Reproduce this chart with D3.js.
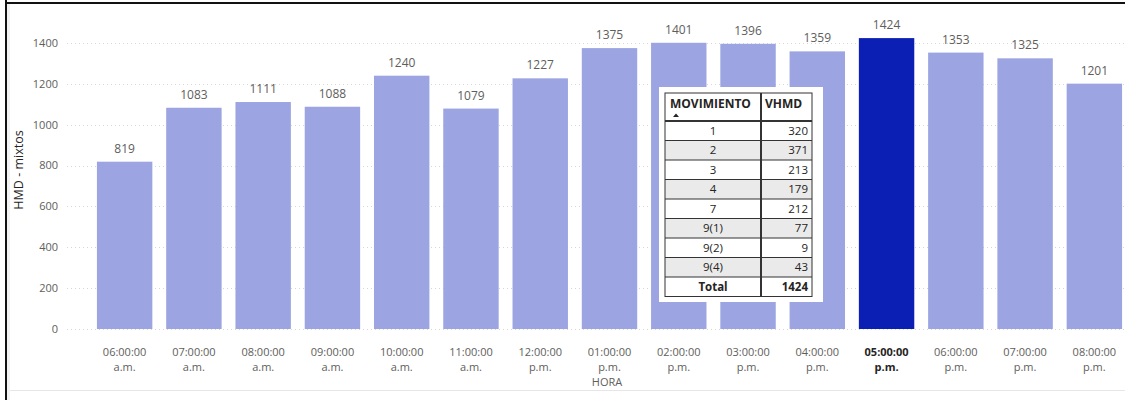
<!DOCTYPE html>
<html>
<head>
<meta charset="utf-8">
<script src="https://cdn.jsdelivr.net/npm/d3@7"></script>
<style>
  body { margin: 0; background: #fff; }
  svg { display: block; font-family: "Segoe UI", "Open Sans", sans-serif; }
</style>
</head>
<body>
<svg id="chart" width="1125" height="400"></svg>
<script>
'use strict';

// hourly volumes
const horas = [
  '06:00:00 a.m.', '07:00:00 a.m.', '08:00:00 a.m.', '09:00:00 a.m.', '10:00:00 a.m.',
  '11:00:00 a.m.', '12:00:00 p.m.', '01:00:00 p.m.', '02:00:00 p.m.', '03:00:00 p.m.',
  '04:00:00 p.m.', '05:00:00 p.m.', '06:00:00 p.m.', '07:00:00 p.m.', '08:00:00 p.m.'
];
const vhmd = [819, 1083, 1111, 1088, 1240, 1079, 1227, 1375, 1401, 1396, 1359, 1424, 1353, 1325, 1201];
const yTicks = [0, 200, 400, 600, 800, 1000, 1200, 1400];
const horaPico = '05:00:00 p.m.';

// tooltip table
const movimientos = ['1', '2', '3', '4', '7', '9(1)', '9(2)', '9(4)'];
const vhmdMov = [320, 371, 213, 179, 212, 77, 9, 43];
const totalMov = 1424;

const svg = d3.select('#chart');

// frame
svg.append('rect').attr('x', 7).attr('y', 3).attr('width', 3).attr('height', 397).attr('fill', '#f3f3f3');
svg.append('line').attr('x1', 10).attr('x2', 1125).attr('y1', 390.5).attr('y2', 390.5)
  .attr('stroke', '#e6e6e6');
svg.append('rect').attr('x', 5).attr('y', 0).attr('width', 2).attr('height', 400).attr('fill', '#111');
svg.append('rect').attr('x', 5).attr('y', 2).attr('width', 1120).attr('height', 2).attr('fill', '#111');

const y = d3.scaleLinear().domain([0, 1400]).range([329, 43]);
const x = d3.scaleBand().domain(horas).range([90, 1129]).paddingInner(0.2).paddingOuter(0.1);

// gridlines + y labels
const yAxis = svg.append('g');
yAxis.selectAll('line').data(yTicks).enter().append('line')
  .attr('x1', 67).attr('x2', 1125)
  .attr('y1', d => Math.round(y(d)) + 0.5).attr('y2', d => Math.round(y(d)) + 0.5)
  .attr('stroke', '#d6d6d6').attr('stroke-dasharray', '1,3');
yAxis.selectAll('text').data(yTicks).enter().append('text')
  .attr('x', 58).attr('y', d => y(d)).attr('dy', '0.35em')
  .attr('text-anchor', 'end').attr('font-size', 11).attr('fill', '#605e5c')
  .text(d => d);

svg.append('text')
  .attr('transform', 'translate(23,170) rotate(-90)')
  .attr('text-anchor', 'middle').attr('font-size', 12.5).attr('fill', '#252423')
  .text('HMD - mixtos');

// bars
svg.append('g').selectAll('rect').data(horas).enter().append('rect')
  .attr('x', d => x(d)).attr('width', x.bandwidth())
  .attr('y', (d, i) => y(vhmd[i])).attr('height', (d, i) => y(0) - y(vhmd[i]))
  .attr('fill', d => d === horaPico ? '#0b1fb4' : '#9ca4e1');

// value labels
svg.append('g').selectAll('text').data(horas).enter().append('text')
  .attr('x', d => x(d) + x.bandwidth() / 2)
  .attr('y', (d, i) => y(vhmd[i]) - 9)
  .attr('text-anchor', 'middle').attr('font-size', 12).attr('fill', '#605e5c')
  .text((d, i) => vhmd[i]);

// x labels (two lines)
const xl = svg.append('g').selectAll('text').data(horas).enter().append('text')
  .attr('x', d => x(d) + x.bandwidth() / 2)
  .attr('y', 356)
  .attr('text-anchor', 'middle').attr('font-size', 11)
  .attr('fill', d => d === horaPico ? '#252423' : '#605e5c')
  .attr('font-weight', d => d === horaPico ? 'bold' : null);
xl.append('tspan').attr('x', d => x(d) + x.bandwidth() / 2).text(d => d.split(' ')[0]);
xl.append('tspan').attr('x', d => x(d) + x.bandwidth() / 2).attr('dy', 15).text(d => d.split(' ')[1]);

svg.append('text')
  .attr('x', 607).attr('y', 386)
  .attr('text-anchor', 'middle').attr('font-size', 11).attr('fill', '#605e5c')
  .text('HORA');

// tooltip with table
const tip = svg.append('g');
tip.append('rect').attr('x', 659).attr('y', 87).attr('width', 164).attr('height', 215).attr('fill', '#fff');

const tx = 665, ty = 93, c1 = 96, c2 = 51, hh = 28, rh = 19.5;
const rows = movimientos.map((m, i) => ({ m: m, v: vhmdMov[i] }));
rows.push({ m: 'Total', v: totalMov, total: true });

const t = tip.append('g').attr('transform', `translate(${tx},${ty})`);
t.selectAll('rect.row').data(rows).enter().append('rect')
  .attr('class', 'row')
  .attr('x', 0).attr('y', (d, i) => hh + i * rh)
  .attr('width', c1 + c2).attr('height', rh)
  .attr('fill', (d, i) => i % 2 === 1 && !d.total ? '#eaeaea' : '#fff');

// header
t.append('text').attr('x', 5).attr('y', 15).attr('font-size', 12).attr('font-weight', 'bold')
  .attr('fill', '#252423').text('MOVIMIENTO');
t.append('text').attr('x', c1 + 4).attr('y', 15).attr('font-size', 12).attr('font-weight', 'bold')
  .attr('fill', '#252423').text('VHMD');
t.append('path').attr('d', 'M8,24 L11,20.5 L14,24 Z').attr('fill', '#252423');

// row text
t.selectAll('text.m').data(rows).enter().append('text')
  .attr('class', 'm')
  .attr('x', c1 / 2).attr('y', (d, i) => hh + i * rh + rh / 2).attr('dy', '0.35em')
  .attr('text-anchor', 'middle').attr('font-size', 11.5)
  .attr('font-weight', d => d.total ? 'bold' : null)
  .attr('fill', '#252423').text(d => d.m);
t.selectAll('text.v').data(rows).enter().append('text')
  .attr('class', 'v')
  .attr('x', c1 + c2 - 4).attr('y', (d, i) => hh + i * rh + rh / 2).attr('dy', '0.35em')
  .attr('text-anchor', 'end').attr('font-size', 11.5)
  .attr('font-weight', d => d.total ? 'bold' : null)
  .attr('fill', '#252423').text(d => d.v);

// grid lines of the table
t.selectAll('line.h').data(d3.range(rows.length)).enter().append('line')
  .attr('class', 'h')
  .attr('x1', 0).attr('x2', c1 + c2)
  .attr('y1', i => hh + i * rh).attr('y2', i => hh + i * rh)
  .attr('stroke', '#333').attr('stroke-width', i => i === 0 ? 2 : 1);
t.append('line').attr('x1', c1).attr('x2', c1).attr('y1', 0).attr('y2', hh + rows.length * rh)
  .attr('stroke', '#333').attr('stroke-width', 2);
t.append('rect').attr('x', 0).attr('y', 0).attr('width', c1 + c2).attr('height', hh + rows.length * rh)
  .attr('fill', 'none').attr('stroke', '#333').attr('stroke-width', 1);
</script>
</body>
</html>
